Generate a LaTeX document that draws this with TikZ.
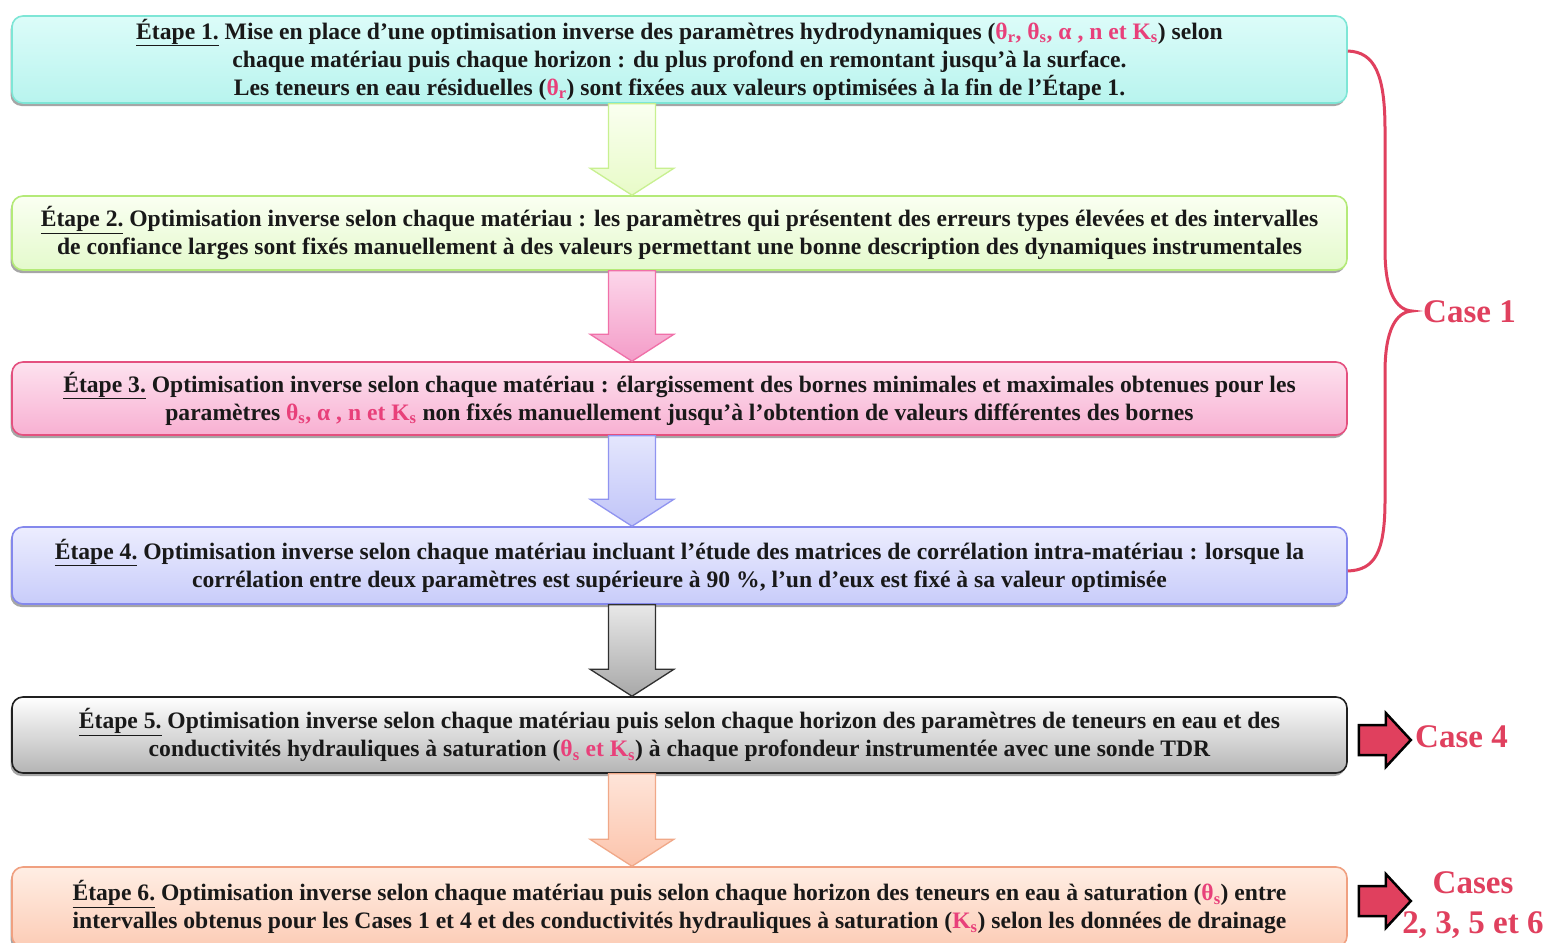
\documentclass[tikz,border=0pt]{standalone}
\usepackage{fontspec}
\setmainfont{Liberation Serif}
\usetikzlibrary{shadows,calc}
\definecolor{pinkc}{HTML}{E8407A}
\definecolor{casec}{HTML}{E0405E}
\definecolor{bA}{HTML}{7EE6D6}\definecolor{tA}{HTML}{DCFCF9}\definecolor{uA}{HTML}{B8F4EE}
\definecolor{bB}{HTML}{B4EA78}\definecolor{tB}{HTML}{FAFFF2}\definecolor{uB}{HTML}{E4FACC}
\definecolor{bC}{HTML}{E4507F}\definecolor{tC}{HTML}{FDE2EF}\definecolor{uC}{HTML}{F8B0D2}
\definecolor{bD}{HTML}{8488EC}\definecolor{tD}{HTML}{ECEDFE}\definecolor{uD}{HTML}{C8CCFA}
\definecolor{bE}{HTML}{202020}\definecolor{tE}{HTML}{FFFFFF}\definecolor{uE}{HTML}{B4B4B4}
\definecolor{bF}{HTML}{F0A080}\definecolor{tF}{HTML}{FFEEE4}\definecolor{uF}{HTML}{FCCCB6}
\definecolor{abA}{HTML}{C8F090}\definecolor{atA}{HTML}{FAFFF0}\definecolor{auA}{HTML}{E8FBC8}
\definecolor{abB}{HTML}{F070A8}\definecolor{atB}{HTML}{FCD6EA}\definecolor{auB}{HTML}{F49CC8}
\definecolor{abC}{HTML}{9094F0}\definecolor{atC}{HTML}{E4E6FD}\definecolor{auC}{HTML}{C0C4F8}
\definecolor{abD}{HTML}{303030}\definecolor{atD}{HTML}{E8E8E8}\definecolor{auD}{HTML}{A8A8A8}
\definecolor{abE}{HTML}{F0A888}\definecolor{atE}{HTML}{FEE4D8}\definecolor{auE}{HTML}{FCC4AC}
\newcommand\pk[1]{\textcolor{pinkc}{#1}}
\newcommand\ul[1]{\underline{#1}}
\tikzset{
  stepbox/.style={rounded corners=11pt, line width=1.6pt, minimum width=1335pt, align=center,
    inner sep=0pt, font=\fontsize{23.6}{28}\selectfont\bfseries, text=black!90,
    drop shadow={shadow xshift=-1.5pt, shadow yshift=-3pt, fill=black, opacity=0.35}},
  casetext/.style={text=casec, font=\fontsize{33}{40}\selectfont\bfseries, align=center, inner sep=0pt},
  bracestyle/.style={draw=casec, line width=3pt}
}
\def\ax{632pt}
\newcommand\blockarrow[5]{%
  \path let \p1=(#1.south), \p2=(#2.north) in
    [draw=#3, top color=#4, bottom color=#5, line width=1.3pt]
    (\ax-23.5pt,\y1) -- (\ax-23.5pt,\y2+27pt) -- (\ax-42pt,\y2+27pt) -- (\ax,\y2)
    -- (\ax+42pt,\y2+27pt) -- (\ax+23.5pt,\y2+27pt) -- (\ax+23.5pt,\y1) -- cycle;}
\newcommand\redarrow[2]{%
  \path let \p1=(#1), \p2=(#2.west) in
    [draw=black, fill=casec, line width=2.5pt, line join=miter]
    (\x1,\y1+15pt) -- (\x1+27pt,\y1+15pt) -- (\x1+27pt,\y1+27pt) -- (\x1+52pt,\y1)
    -- (\x1+27pt,\y1-27pt) -- (\x1+27pt,\y1-15pt) -- (\x1,\y1-15pt) -- cycle;}
\begin{document}
\begin{tikzpicture}[x=1pt,y=-1pt]
\useasboundingbox (0,0) rectangle (1554,942);
\fill[white] (0,0) rectangle (1554,942);

\node[stepbox, draw=bA, top color=tA, bottom color=uA, minimum height=87pt] (e1) at (679.5,59.5)
 {\ul{Étape 1.} Mise en place d’une optimisation inverse des paramètres hydrodynamiques (\pk{θ\textsubscript{r}, θ\textsubscript{s}, α , n et K\textsubscript{s}}) selon\\
  chaque matériau puis chaque horizon : du plus profond en remontant jusqu’à la surface.\\
  Les teneurs en eau résiduelles (\pk{θ\textsubscript{r}}) sont fixées aux valeurs optimisées à la fin de l’Étape 1.};

\node[stepbox, draw=bB, top color=tB, bottom color=uB, minimum height=74pt] (e2) at (679.5,233)
 {\ul{Étape 2.} Optimisation inverse selon chaque matériau : les paramètres qui présentent des erreurs types élevées et des intervalles\\
  de confiance larges sont fixés manuellement à des valeurs permettant une bonne description des dynamiques instrumentales};

\node[stepbox, draw=bC, top color=tC, bottom color=uC, minimum height=73pt] (e3) at (679.5,398.5)
 {\ul{Étape 3.} Optimisation inverse selon chaque matériau : élargissement des bornes minimales et maximales obtenues pour les\\
  paramètres \pk{θ\textsubscript{s}, α , n et K\textsubscript{s}} non fixés manuellement jusqu’à l’obtention de valeurs différentes des bornes};

\node[stepbox, draw=bD, top color=tD, bottom color=uD, minimum height=77pt] (e4) at (679.5,565.5)
 {\ul{Étape 4.} Optimisation inverse selon chaque matériau incluant l’étude des matrices de corrélation intra-matériau : lorsque la\\
  corrélation entre deux paramètres est supérieure à 90 \%, l’un d’eux est fixé à sa valeur optimisée};

\node[stepbox, draw=bE, top color=tE, bottom color=uE, minimum height=76pt] (e5) at (679.5,735)
 {\ul{Étape 5.} Optimisation inverse selon chaque matériau puis selon chaque horizon des paramètres de teneurs en eau et des\\
  conductivités hydrauliques à saturation (\pk{θ\textsubscript{s} et K\textsubscript{s}}) à chaque profondeur instrumentée avec une sonde TDR};

\node[stepbox, draw=bF, top color=tF, bottom color=uF, minimum height=80pt] (e6) at (679.5,907)
 {\ul{Étape 6.} Optimisation inverse selon chaque matériau puis selon chaque horizon des teneurs en eau à saturation (\pk{θ\textsubscript{s}}) entre\\
  intervalles obtenus pour les Cases 1 et 4 et des conductivités hydrauliques à saturation (\pk{K\textsubscript{s}}) selon les données de drainage};

\blockarrow{e1}{e2}{abA}{atA}{auA}
\blockarrow{e2}{e3}{abB}{atB}{auB}
\blockarrow{e3}{e4}{abC}{atC}{auC}
\blockarrow{e4}{e5}{abD}{atD}{auD}
\blockarrow{e5}{e6}{abE}{atE}{auE}

% brace
\node[casetext, anchor=west] (c1) at (1423,312) {Case 1};
\coordinate (btip) at ($(c1.west)+(-11,-1)$);
\draw[bracestyle] ($(e1.east)+(0,-8.5)$) .. controls (1375,52) and (1385,75) .. (1385,130)
   -- (1385,250) .. controls (1385,292) and (1396,310) .. (btip)
   .. controls (1396,312) and (1385,330) .. (1385,372)
   -- (1385,500) .. controls (1385,552) and (1375,570) .. ($(e4.east)+(0,5.5)$);

\node[casetext, anchor=west] (c4) at (1415,737) {Case 4};
\redarrow{$(e5.east)+(11,5)$}{c4}
\node[casetext] (c6) at (1473,905) {Cases\\2, 3, 5 et 6};
\redarrow{$(e6.east)+(11,-6)$}{c6}
\end{tikzpicture}
\end{document}
